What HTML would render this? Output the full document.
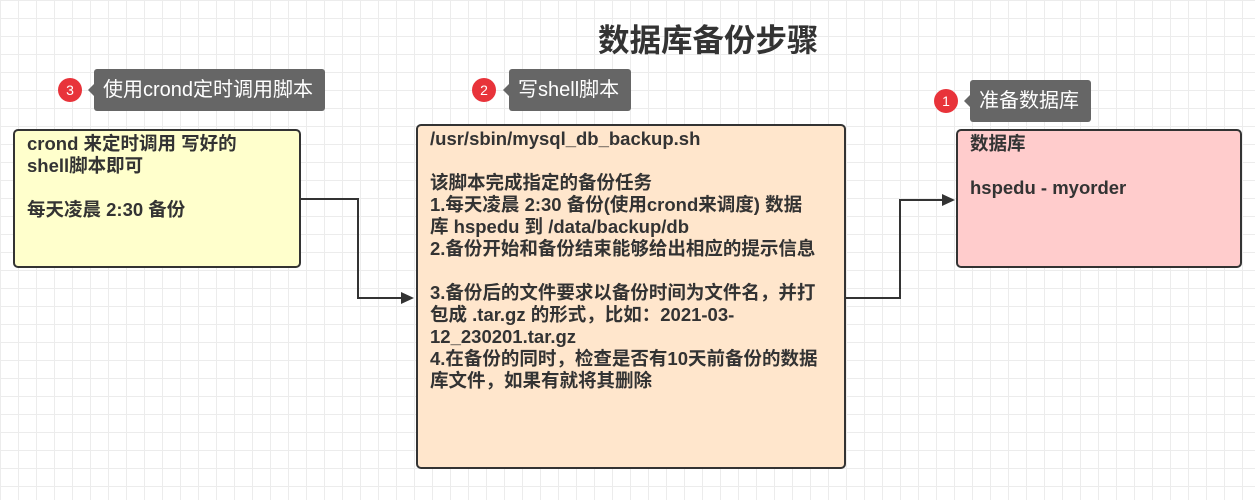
<!DOCTYPE html>
<html><head><meta charset="utf-8"><style>
body{margin:0;width:1255px;height:500px;overflow:hidden;position:relative;background:#fff;
background-image:linear-gradient(#ececec 1px,transparent 1px),linear-gradient(90deg,#ececec 1px,transparent 1px);background-size:18px 18px;
font-family:"Liberation Sans","Noto Sans CJK SC",sans-serif;color:#333}
.box{position:absolute;border:2px solid #333;border-radius:5px;box-sizing:border-box;font-weight:bold;font-size:18.5px;line-height:22px;padding:2px 12px;white-space:pre}
.tag{position:absolute;background:#666;color:#fff;border-radius:3px;font-size:20px;height:42px;line-height:42px;padding:0 12px 0 9px;white-space:nowrap}
.tag:before{content:"";position:absolute;left:-6px;top:15px;border-style:solid;border-width:6px 6px 6px 0;border-color:transparent #666 transparent transparent}
.num{position:absolute;width:24px;height:24px;border-radius:50%;background:#e8333a;color:#fff;font-size:14px;line-height:24px;text-align:center}
</style></head><body>
<div style="position:absolute;left:598px;top:15px;font-size:31.5px;font-weight:bold;color:#333;white-space:nowrap">数据库备份步骤</div>
<div class="num" style="left:58px;top:78px">3</div>
<div class="tag" style="left:94px;top:69px">使用crond定时调用脚本</div>
<div class="num" style="left:472px;top:78px">2</div>
<div class="tag" style="left:509px;top:69px">写shell脚本</div>
<div class="num" style="left:934px;top:89px">1</div>
<div class="tag" style="left:970px;top:80px">准备数据库</div>
<div class="box" style="left:13px;top:129px;width:288px;height:139px;background:#ffffcc">crond 来定时调用 写好的
shell脚本即可

每天凌晨 2:30 备份</div>
<div class="box" style="left:416px;top:124px;width:430px;height:345px;background:#ffe6cc">/usr/sbin/mysql_db_backup.sh

该脚本完成指定的备份任务
1.每天凌晨 2:30 备份(使用crond来调度) 数据
库 hspedu 到 /data/backup/db
2.备份开始和备份结束能够给出相应的提示信息

3.备份后的文件要求以备份时间为文件名，并打
包成 .tar.gz 的形式，比如：2021-03-
12_230201.tar.gz
4.在备份的同时，检查是否有10天前备份的数据
库文件，如果有就将其删除</div>
<div class="box" style="left:956px;top:129px;width:286px;height:139px;background:#ffcccc">数据库

hspedu - myorder</div>
<svg width="1255" height="500" style="position:absolute;left:0;top:0">
<path d="M301 199H358V298H404" fill="none" stroke="#333" stroke-width="2"/>
<path d="M414 298L401 292V304Z" fill="#333"/>
<path d="M846 298H900V200H944" fill="none" stroke="#333" stroke-width="2"/>
<path d="M955 200L942 194V206Z" fill="#333"/>
</svg>
</body></html>
